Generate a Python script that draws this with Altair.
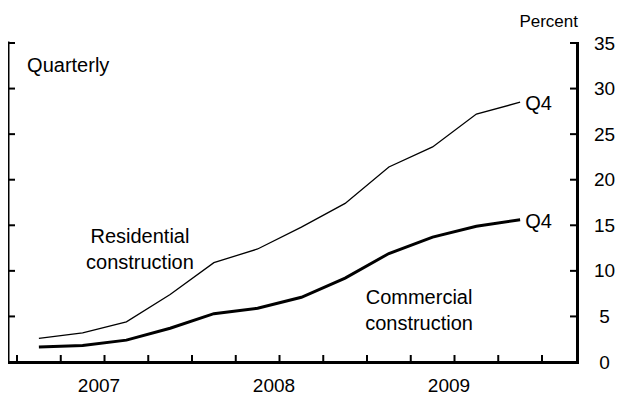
import altair as alt
import pandas as pd

# ---- data ----
quarters = ["2007 Q1", "2007 Q2", "2007 Q3", "2007 Q4",
            "2008 Q1", "2008 Q2", "2008 Q3", "2008 Q4",
            "2009 Q1", "2009 Q2", "2009 Q3", "2009 Q4"]
residential = [2.6, 3.2, 4.4, 7.4, 10.9, 12.4, 14.8, 17.4, 21.4, 23.6, 27.2, 28.5]
commercial = [1.65, 1.8, 2.4, 3.7, 5.3, 5.9, 7.1, 9.2, 11.9, 13.7, 14.9, 15.6]
years = [2007, 2008, 2009]
y_ticks = [0, 5, 10, 15, 20, 25, 30, 35]

# annotation texts (positions in data units)
center_text = ["Residential", "construction", "Commercial", "construction"]
center_q = [2.81, 2.81, 9.19, 9.19]
center_v = [13.7, 10.9, 7.0, 4.2]

FONT = "Liberation Sans"
W, H = 569, 319

rows = []
for i, q in enumerate(quarters):
    rows.append({"q": i + 0.5, "quarter": q, "series": "Residential", "value": residential[i]})
    rows.append({"q": i + 0.5, "quarter": q, "series": "Commercial", "value": commercial[i]})
df = pd.DataFrame(rows)
last = df[df["quarter"] == quarters[-1]].copy()
last["label"] = quarters[-1].split()[-1]

xscale = alt.Scale(domain=[-0.206, 12.8], nice=False, zero=False)
yscale = alt.Scale(domain=[0, 35], nice=False, zero=True)

xaxis = alt.Axis(values=[4 * k + 2 for k in range(len(years))],
                 labelExpr=f"{years[0]} + floor(datum.value / 4)",
                 title=None, ticks=False, grid=False,
                 domainColor="black", domainWidth=3, domainCap="square",
                 labelFont=FONT, labelFontSize=19, labelColor="black",
                 labelPadding=14, labelOffset=-6)
yaxis = alt.Axis(orient="right", values=y_ticks, title=None, ticks=False, grid=False,
                 domainColor="black", domainWidth=3, domainCap="square",
                 labelFont=FONT, labelFontSize=19, labelColor="black",
                 labelAlign="center", labelPadding=27)


def X(field="q"):
    return alt.X(field, type="quantitative", scale=xscale, axis=xaxis)


def Y(field="value"):
    return alt.Y(field, type="quantitative", scale=yscale, axis=yaxis)


lines = alt.Chart(df).mark_line(color="black", strokeJoin="miter").encode(
    x=X(), y=Y(),
    detail="series:N",
    strokeWidth=alt.StrokeWidth("series:N",
                                scale=alt.Scale(domain=["Residential", "Commercial"], range=[1.3, 3]),
                                legend=None),
)

q4 = alt.Chart(last).mark_text(align="left", baseline="middle", dx=5, dy=2,
                               font=FONT, fontSize=20, color="black").encode(
    x=X(), y=Y(), text="label:N")

ann = pd.DataFrame({"q": center_q, "value": center_v, "t": center_text})
ann_layer = alt.Chart(ann).mark_text(align="center", baseline="middle",
                                     font=FONT, fontSize=20, color="black").encode(
    x=X(), y=Y(), text="t:N")

quarterly = alt.Chart(pd.DataFrame({"q": [0.23], "value": [32.5], "t": ["Quarterly"]})).mark_text(
    align="left", baseline="middle", font=FONT, fontSize=20, color="black").encode(
    x=X(), y=Y(), text="t:N")

percent = alt.Chart(pd.DataFrame({"t": ["Percent"]})).mark_text(
    align="right", baseline="middle", font=FONT, fontSize=17, color="black").encode(
    x=alt.value(W + 1), y=alt.value(-21), text="t:N")

tick_df = pd.DataFrame({"value": y_ticks})
left_ticks = alt.Chart(tick_df).mark_rule(color="black", strokeWidth=2).encode(
    y=Y(), x=alt.value(0), x2=alt.value(7))
right_ticks = alt.Chart(tick_df).mark_rule(color="black", strokeWidth=2).encode(
    y=Y(), x=alt.value(W - 7), x2=alt.value(W))

qtick_df = pd.DataFrame({"q": list(range(4 * len(years) + 1))})
bottom_ticks = alt.Chart(qtick_df).mark_rule(color="black", strokeWidth=2).encode(
    x=X(), y=alt.value(H - 7), y2=alt.value(H))

left_axis = alt.Chart(pd.DataFrame({"a": [0]})).mark_rule(
    color="black", strokeWidth=3, strokeCap="square").encode(
    x=alt.value(0), y=alt.value(0), y2=alt.value(H))

chart = alt.layer(
    left_ticks, right_ticks, bottom_ticks, left_axis,
    lines, q4, ann_layer, quarterly, percent
).properties(
    width=W, height=H,
    autosize=alt.AutoSizeParams(type="none"),
    padding={"left": 0, "top": 35, "right": 47, "bottom": 35},
    background="white",
).configure_view(stroke=None)

chart.save("out.html", embed_options={"renderer": "svg", "actions": False})
